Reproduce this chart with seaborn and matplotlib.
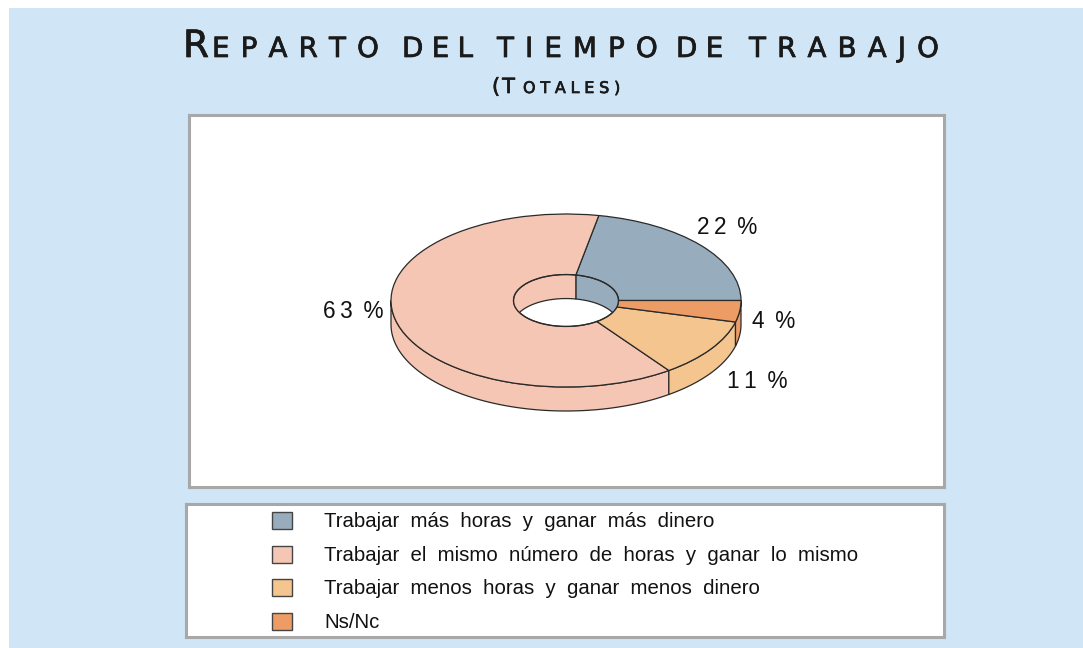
import numpy as np
import matplotlib
matplotlib.use('Agg')
import matplotlib.pyplot as plt
import matplotlib.patheffects as pe
from matplotlib.patches import Rectangle, Ellipse, Polygon
import seaborn as sns

categories = ['Trabajar más horas y ganar más dinero',
              'Trabajar el mismo número de horas y ganar lo mismo',
              'Trabajar menos horas y ganar menos dinero',
              'Ns/Nc']
values = [22, 63, 11, 4]
colors = ['#97adbd', '#f5c6b3', '#f4c58e', '#ee9c66']
title_words = ['EPARTO', 'DEL', 'TIEMPO', 'DE', 'TRABAJO']

W, H = 1083, 648
BG = '#d0e5f5'
GREY = '#a8a8a8'
EDGE = '#2a2a2a'
INK = '#1a1a1a'

sns.set_theme(style='white')
plt.rcParams['font.family'] = ['Liberation Sans', 'DejaVu Sans']
palette = sns.color_palette(colors)

fig = plt.figure(figsize=(W / 100, H / 100), dpi=100, facecolor='white')


def px_axes(x0, y0, x1, y1, **kw):
    return fig.add_axes([x0 / W, 1 - y1 / H, (x1 - x0) / W, (y1 - y0) / H], **kw)


def head(x, y, s, size, sep='', ha='left'):
    t = fig.text(x / W, 1 - y / H, sep.join(s), fontsize=size, family='DejaVu Sans', color=INK,
                 va='baseline', ha=ha)
    t.set_path_effects([pe.withStroke(linewidth=0.5, foreground=INK)])
    return t


# page background
bg = px_axes(9, 8, W, H)
bg.set_facecolor(BG)
bg.set_xticks([])
bg.set_yticks([])
sns.despine(ax=bg, left=True, bottom=True)

# title in small caps, wide letter spacing
THIN = '\u2009'
HAIR = '\u200a'
head(183, 57, 'R', 27)
word_seps = [THIN * 2, THIN + HAIR, THIN * 2, THIN + HAIR, THIN * 2]
for word, xs, sep in zip(title_words, [212, 402, 497, 676, 749], word_seps):
    head(xs, 57, word, 20, sep=sep)
head(492, 93, '(T', 15, sep=HAIR)
head(523, 93, 'OTALES)', 11.5, sep=THIN + HAIR)

# pie panel
cx, cy, rx, ry = 566, 300.5, 175, 86.5
ax = px_axes(189, 115, 944, 487)
hole = 0.30
depth = 24 / ry

angles = np.concatenate([[0], np.cumsum(values) / np.sum(values) * 360])


def arc(a0, a1, r=1.0, dy=0.0):
    t = np.radians(np.linspace(a0, a1, 80))
    return np.column_stack([r * np.cos(t), r * np.sin(t) + dy])


# outer wall, only the front half shows
for i, col in enumerate(palette):
    a0, a1 = max(angles[i], 180), angles[i + 1]
    if a1 <= a0:
        continue
    pts = np.vstack([arc(a0, a1), arc(a1, a0, dy=-depth)])
    ax.add_patch(Polygon(pts, closed=True, fc=col, ec=EDGE, lw=0.9, zorder=1))

# top of the ring
wedges, _ = ax.pie(values, colors=palette, startangle=0, counterclock=True, radius=1,
                   wedgeprops=dict(width=1 - hole, edgecolor=EDGE, linewidth=0.9, zorder=2))
ax.set_aspect('auto')

# inner wall seen through the hole, back half only
clip = Ellipse((0, 0), 2 * hole, 2 * hole, transform=ax.transData)
for i, col in enumerate(palette):
    a0, a1 = angles[i], min(angles[i + 1], 180)
    if a1 <= a0:
        continue
    pts = np.vstack([arc(a0, a1, hole), arc(a1, a0, hole, dy=-depth)])
    w = Polygon(pts, closed=True, fc=col, ec=EDGE, lw=0.9, zorder=3)
    ax.add_patch(w)
    w.set_clip_path(clip)
ax.add_patch(Ellipse((0, 0), 2 * hole, 2 * hole, fc='none', ec=EDGE, lw=0.9, zorder=5))

ax.set_xlim((189 - cx) / rx, (944 - cx) / rx)
ax.set_ylim((cy - 487) / ry, (cy - 115) / ry)
ax.set_frame_on(True)
ax.set_xticks([])
ax.set_yticks([])
ax.set_facecolor('white')
for s in ax.spines.values():
    s.set_visible(True)
    s.set_color(GREY)
    s.set_linewidth(2.2)

# percent labels
label_px = [(727, 227), (353, 311), (757, 381), (774, 321)]
for v, (lx, ly) in zip(values, label_px):
    ax.text((lx - cx) / rx, (cy - ly) / ry, THIN.join(f'{v}') + THIN + ' ' + '%', fontsize=16.3,
            color='#111111', ha='center', va='center', zorder=6)

# legend panel
lax = px_axes(186, 504, 944, 637)
lax.set_xticks([])
lax.set_yticks([])
lax.set_facecolor('white')
for s in lax.spines.values():
    s.set_visible(True)
    s.set_color(GREY)
    s.set_linewidth(2.2)
lax.set_xlim(186, 944)
lax.set_ylim(637, 504)
for i, (name, col) in enumerate(zip(categories, palette)):
    y = 520.5 + i * 33.7
    lax.add_patch(Rectangle((272, y - 8.5), 20, 17, fc=col, ec='#444444', lw=1))
    lax.text(324, y + 1, name.replace(' ', '  '), fontsize=14.7, color='#111111', va='center', ha='left')

fig.savefig('out.png', dpi=100, facecolor='white')
